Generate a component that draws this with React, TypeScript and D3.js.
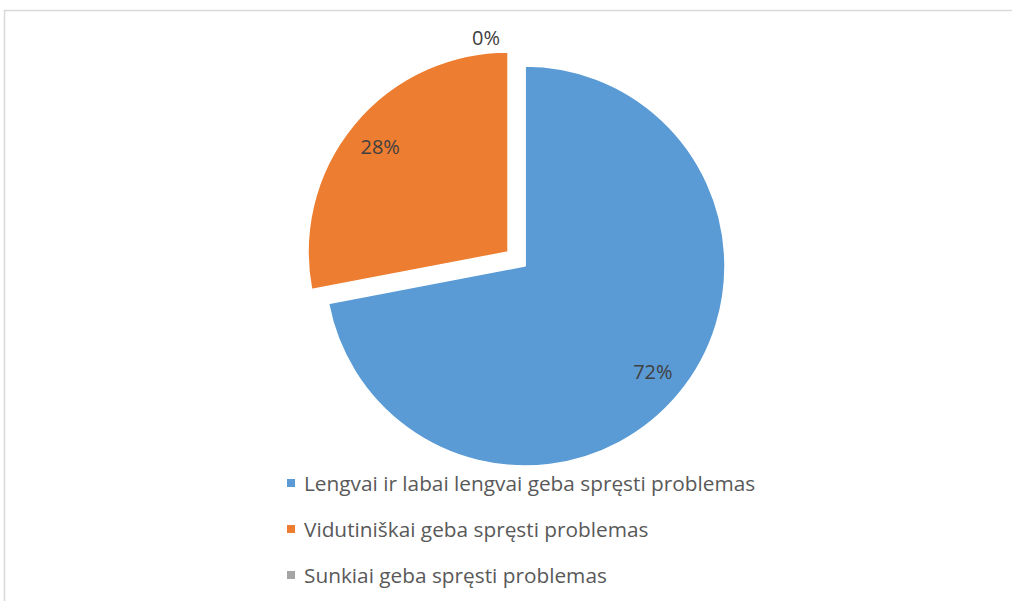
import React from "react";
import * as d3 from "d3";

const categories = [
  "Lengvai ir labai lengvai geba spręsti problemas",
  "Vidutiniškai geba spręsti problemas",
  "Sunkiai geba spręsti problemas",
];
const values = [72, 28, 0];
const labels = ["72%", "28%", "0%"];
const colors = ["#5B9BD5", "#ED7D31", "#A5A5A5"];
const exploded = [false, true, false];

const W = 1012;
const H = 601;
const FONT = "'Open Sans', 'DejaVu Sans', sans-serif";

export default function App() {
  const cx = 525;
  const cy = 266;
  const r = 200;
  const explode = 22;
  const labelR = 166;

  const pie = d3.pie<number>().sort(null).value((d) => d)(values);
  const arc = d3.arc<d3.PieArcDatum<number>>().innerRadius(0).outerRadius(r);

  const legendX = 287;
  const legendY0 = 483;
  const legendStep = 46;

  return (
    <svg
      width={W}
      height={H}
      style={{ position: "absolute", left: 0, top: 0, background: "#fff" }}
      fontFamily={FONT}
    >
      <rect x={4.5} y={10.5} width={W + 10} height={H + 10} fill="#fff" stroke="#D9D9D9" strokeWidth={1.5} />
      <g transform={`translate(${cx},${cy})`}>
        {pie.map((p, i) => {
          const mid = (p.startAngle + p.endAngle) / 2;
          const off = exploded[i] ? explode : 0;
          const dx = Math.sin(mid) * off;
          const dy = -Math.cos(mid) * off;
          return (
            <path
              key={i}
              d={arc(p) || ""}
              transform={`translate(${dx},${dy})`}
              fill={colors[i]}
              stroke="#fff"
              strokeWidth={1.5}
            />
          );
        })}
        {pie.map((p, i) => {
          const mid = (p.startAngle + p.endAngle) / 2;
          const off = exploded[i] ? explode : 0;
          const zero = values[i] === 0;
          const rr = zero ? 229 : labelR + off;
          const x = Math.sin(mid) * rr + (zero ? -39 : 0);
          const y = -Math.cos(mid) * rr;
          return (
            <text
              key={i}
              x={x}
              y={y}
              textAnchor="middle"
              dominantBaseline="central"
              fontSize={20}
              fill="#404040"
            >
              {labels[i]}
            </text>
          );
        })}
      </g>
      {categories.map((c, i) => (
        <g key={i} transform={`translate(${legendX},${legendY0 + i * legendStep})`}>
          <rect x={0} y={-4} width={8} height={8} fill={colors[i]} />
          <text x={17} y={0} dominantBaseline="central" fontSize={20.8} fill="#595959">
            {c}
          </text>
        </g>
      ))}
    </svg>
  );
}
